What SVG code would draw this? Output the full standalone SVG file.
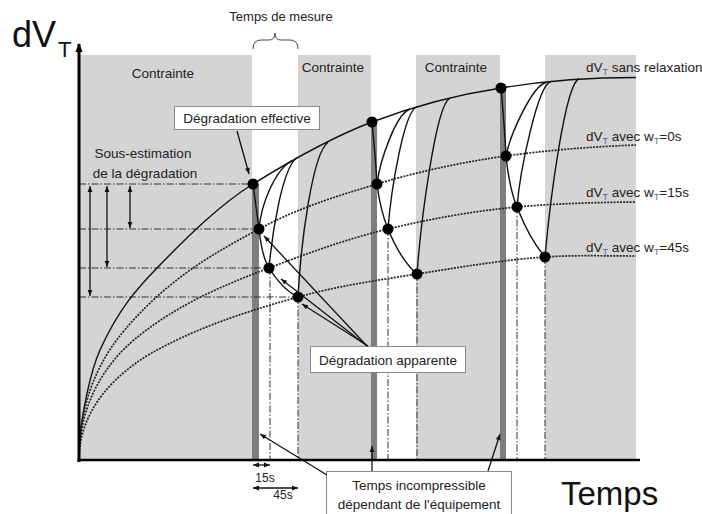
<svg xmlns="http://www.w3.org/2000/svg" width="702" height="514" viewBox="0 0 702 514">
<defs>
<style>
.band{fill:#d4d4d4}
.bar{fill:#7e7e7e}
.solid{fill:none;stroke:#111;stroke-width:1.4}
.dotc{fill:none;stroke:#222;stroke-width:1.7;stroke-dasharray:2 1.2}
.dd{fill:none;stroke:#333;stroke-width:1;stroke-dasharray:7 2 1.5 2}
.dot{fill:#000}
.t{font-family:"Liberation Sans",Arial,sans-serif;font-size:13.5px;fill:#222}
.sub{font-size:9px;fill:#4a6fa5}
.box{fill:#fff;stroke:#8a8a8a;stroke-width:1}
.arr{fill:none;stroke:#111;stroke-width:1.3}
.axis{fill:none;stroke:#000}
</style>
<marker id="ah" viewBox="0 0 10 10" refX="10" refY="5" markerWidth="7" markerHeight="6" markerUnits="userSpaceOnUse" orient="auto-start-reverse"><path d="M0,1 L10,5 L0,9 z" fill="#111"/></marker>
<marker id="axh" viewBox="0 0 10 10" refX="9" refY="5" markerWidth="9" markerHeight="9" markerUnits="userSpaceOnUse" orient="auto"><path d="M0,1 L10,5 L0,9 z" fill="#000"/></marker>
</defs>
<rect width="702" height="514" fill="#fff"/>

<g id="bands">
<rect class="band" x="80" y="55" width="172" height="405"/>
<rect class="band" x="298" y="55" width="73" height="405"/>
<rect class="band" x="416" y="55" width="84" height="405"/>
<rect class="band" x="545" y="55" width="91" height="405"/>
</g>

<g id="bars">
<rect class="bar" x="252" y="184" width="7" height="276"/>
<rect class="bar" x="371" y="122" width="6" height="338"/>
<rect class="bar" x="500" y="88" width="6" height="372"/>
</g>

<g id="guides">
<path class="dd" d="M79,184H253 M79,229H259 M79,268H269 M79,297H298"/>
<path class="dd" d="M270,268V460 M298,297V460 M388,229V460 M417,274V460 M517,207V460 M545,257V460"/>
</g>

<g id="curves">
<path class="dotc" d="M79,460 C79,385 112.3,343.9 129,325 C172.3,275.9 215.7,252.4 259,229 C298.3,207.8 337.7,195.8 377,184 C420,171.1 463,162 506,156 C549.3,149.9 592.7,146.7 636,145"/>
<path class="dotc" d="M79,460 C79,390 119,351.5 139,335.8 C182.3,301.7 225.7,284.6 269,268 C308.7,252.8 348.3,238.5 388,229 C431,218.7 474,210.9 517,207 C556.7,203.4 596.3,202.4 636,202"/>
<path class="dotc" d="M79,460 C79,400 131,363.9 157,350 C204,324.8 251,310.3 298,297 C337.7,285.8 377.3,280.4 417,274 C459.7,267.2 502.3,260 545,257 C575,254.9 606,256 636,256"/>
<path class="solid" d="M79,460 C79,415 93,365.4 100,350 C119,308.2 138,287.6 157,268 C189,235 221,203.8 253,184 C292.7,159.4 332.3,137 372,122 C415,105.7 458,94.5 501,88 C546,80.5 591,77.5 636,77.5"/>
<path class="solid" d="M253,184 C255,200 257,215 259,229 C261,248 264,260 269,268 C276,279 287,292 298,297"/>
<path class="solid" d="M372,122 C374,143 376,165 377,184 C379,200 383,217 388,229 C395,246 404,263 417,274"/>
<path class="solid" d="M501,88 C503,110 505,135 506,156 C508,175 511,193 517,207 C524,225 533,243 545,257"/>
<path class="solid" d="M259,229 C261,205 274,171 292,160.5"/>
<path class="solid" d="M269,268 C272,235 282,168 297,157.5"/>
<path class="solid" d="M298,297 C301,240 313,152 328,142.5"/>
<path class="solid" d="M377,184 C380,160 396,114 410,109"/>
<path class="solid" d="M388,229 C391,190 404,111 417,106.7"/>
<path class="solid" d="M417,274 C421,220 436,104 450,98"/>
<path class="solid" d="M506,156 C510,135 532,86 546,82.5"/>
<path class="solid" d="M517,207 C520,170 538,84 551,81.5"/>
<path class="solid" d="M545,257 C550,200 565,85 579,78.5"/>
</g>

<g id="dots">
<circle class="dot" cx="253" cy="184" r="5.5"/>
<circle class="dot" cx="259" cy="229" r="5.5"/>
<circle class="dot" cx="269" cy="268" r="5.5"/>
<circle class="dot" cx="298" cy="297" r="5.5"/>
<circle class="dot" cx="372" cy="122" r="5.5"/>
<circle class="dot" cx="377" cy="184" r="5.5"/>
<circle class="dot" cx="388" cy="229" r="5.5"/>
<circle class="dot" cx="417" cy="274" r="5.5"/>
<circle class="dot" cx="501" cy="88" r="5.5"/>
<circle class="dot" cx="506" cy="156" r="5.5"/>
<circle class="dot" cx="517" cy="207" r="5.5"/>
<circle class="dot" cx="545" cy="257" r="5.5"/>
</g>

<g id="axes">
<line class="axis" x1="79" y1="462" x2="79" y2="44" stroke-width="3" marker-end="url(#axh)"/>
<line class="axis" x1="77.5" y1="460" x2="640" y2="460" stroke-width="2.5"/>
<text class="t" x="12" y="47" style="font-size:36px;fill:#111">dV<tspan dx="2" dy="10" style="font-size:22px">T</tspan></text>
<text class="t" x="561" y="505" style="font-size:33px;fill:#111">Temps</text>
</g>

<g id="labels">
<text class="t" x="163" y="78" text-anchor="middle">Contrainte</text>
<text class="t" x="333" y="72" text-anchor="middle">Contrainte</text>
<text class="t" x="456" y="72" text-anchor="middle">Contrainte</text>
<text class="t" x="281" y="21" text-anchor="middle" style="font-size:13px">Temps de mesure</text>
<path d="M253,49 Q253,40 261,40 L269,40 Q275,40 275,33 Q275,40 281,40 L290,40 Q298,40 298,49" fill="none" stroke="#444" stroke-width="1"/>
<text class="t" x="143" y="158" text-anchor="middle">Sous-estimation</text>
<text class="t" x="145" y="178" text-anchor="middle">de la dégradation</text>
<text class="t" x="586" y="72">dV<tspan class="sub" dy="3">T</tspan><tspan dy="-3"> sans relaxation</tspan></text>
<text class="t" x="586" y="141">dV<tspan class="sub" dy="3">T</tspan><tspan dy="-3"> avec w</tspan><tspan class="sub" dy="3">T</tspan><tspan dy="-3">=0s</tspan></text>
<text class="t" x="586" y="197">dV<tspan class="sub" dy="3">T</tspan><tspan dy="-3"> avec w</tspan><tspan class="sub" dy="3">T</tspan><tspan dy="-3">=15s</tspan></text>
<text class="t" x="586" y="252">dV<tspan class="sub" dy="3">T</tspan><tspan dy="-3"> avec w</tspan><tspan class="sub" dy="3">T</tspan><tspan dy="-3">=45s</tspan></text>
<text class="t" x="265" y="482" text-anchor="middle" style="font-size:12px">15s</text>
<text class="t" x="283" y="499" text-anchor="middle" style="font-size:12px">45s</text>
</g>

<g id="box-effective">
<rect class="box" x="174.5" y="106.5" width="145" height="23"/>
<text class="t" x="247" y="123" text-anchor="middle">Dégradation effective</text>
</g>
<g id="box-apparente">
<rect class="box" x="310.5" y="346.5" width="155" height="26"/>
<text class="t" x="388" y="364.5" text-anchor="middle">Dégradation apparente</text>
</g>
<g id="box-incompressible">
<rect class="box" x="326.5" y="471.5" width="185" height="50"/>
<text class="t" x="419" y="490" text-anchor="middle">Temps incompressible</text>
<text class="t" x="419" y="509" text-anchor="middle">dépendant de l'équipement</text>
</g>

<g id="connectors">
<line class="arr" x1="90" y1="186" x2="90" y2="296" stroke="#666" marker-start="url(#ah)" marker-end="url(#ah)"/>
<line class="arr" x1="107" y1="186" x2="107" y2="267" marker-start="url(#ah)" marker-end="url(#ah)"/>
<line class="arr" x1="130" y1="186" x2="130" y2="228" marker-start="url(#ah)" marker-end="url(#ah)"/>
<line class="arr" x1="237" y1="131" x2="249" y2="174" marker-end="url(#ah)"/>
<line class="arr" x1="367" y1="346" x2="264" y2="236" marker-end="url(#ah)"/>
<line class="arr" x1="367" y1="346" x2="281" y2="279" marker-end="url(#ah)"/>
<line class="arr" x1="368" y1="346" x2="302" y2="304" marker-end="url(#ah)"/>
<line class="arr" x1="327" y1="475" x2="260" y2="434" marker-end="url(#ah)"/>
<line class="arr" x1="372" y1="471" x2="372" y2="446" marker-end="url(#ah)"/>
<line class="arr" x1="488" y1="471" x2="500" y2="434" marker-end="url(#ah)"/>
<line class="arr" x1="253" y1="465" x2="270" y2="465" stroke-width="1" marker-start="url(#ah)" marker-end="url(#ah)"/>
<line class="arr" x1="253" y1="488" x2="298" y2="488" stroke-width="1" marker-start="url(#ah)" marker-end="url(#ah)"/>
</g>
</svg>
